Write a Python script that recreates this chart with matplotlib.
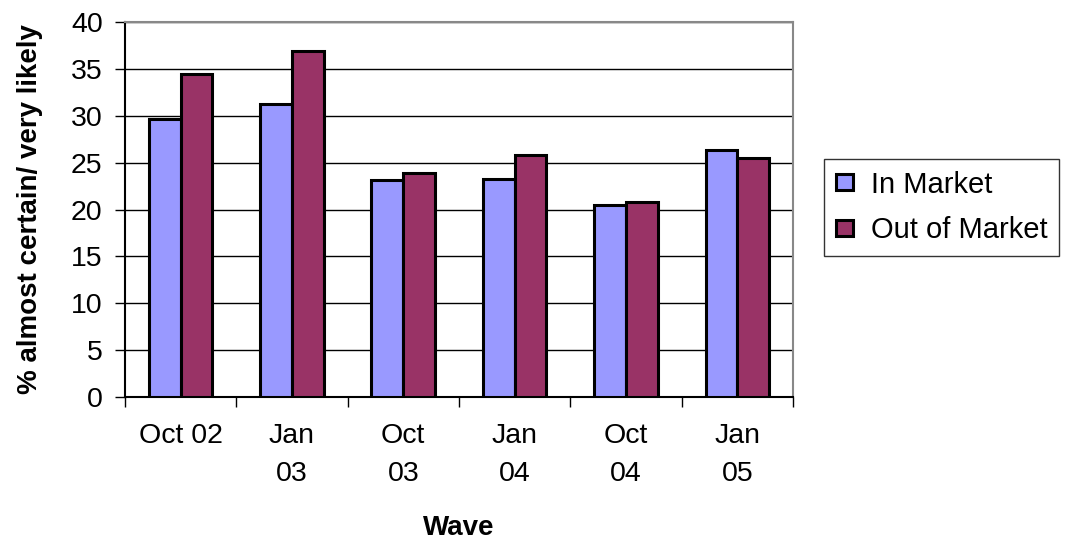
import matplotlib.pyplot as plt
import numpy as np

plt.rcParams['font.family'] = ['Liberation Sans', 'DejaVu Sans']

waves = ['Oct 02', 'Jan\n03', 'Oct\n03', 'Jan\n04', 'Oct\n04', 'Jan\n05']
in_market = [29.7, 31.3, 23.1, 23.3, 20.5, 26.3]
out_market = [34.5, 36.9, 23.9, 25.8, 20.8, 25.5]

fig = plt.figure(figsize=(10.68, 5.42), dpi=100)
ax = fig.add_axes([0.117, 0.2675, 0.6255, 0.6919])

x = np.arange(len(waves))
w = 1 / 3.5  # excel style gap width 150%
ax.bar(x - w / 2, in_market, w, color='#9999ff', edgecolor='black', linewidth=2.2, label='In Market', zorder=3)
ax.bar(x + w / 2, out_market, w, color='#993366', edgecolor='black', linewidth=2.2, label='Out of Market', zorder=3)

ax.set_xlim(-0.5, len(waves) - 0.5)
ax.set_ylim(0, 40)
ax.set_yticks(range(0, 41, 5))
ax.yaxis.grid(True, color='black', linewidth=1, zorder=0)

ax.set_xticks(x)
ax.set_xticklabels(waves, fontsize=20.5, linespacing=1.6, va='top')
ax.set_xticks(np.arange(-0.5, len(waves), 1), minor=True)
ax.tick_params(axis='x', which='major', length=0, pad=19)
ax.tick_params(axis='x', which='minor', length=7, direction='out', width=1)
ax.tick_params(axis='y', length=7, direction='out', width=1, labelsize=20.5, pad=9)

ax.spines['left'].set_color('black')
ax.spines['bottom'].set_color('black')
ax.spines['top'].set_color('#888888')
ax.spines['right'].set_color('#888888')
for s in ax.spines.values():
    s.set_linewidth(1.5)

ax.set_ylabel('% almost certain/ very likely', fontsize=20, fontweight='bold', labelpad=20)
ax.set_xlabel('Wave', fontsize=20, fontweight='bold', labelpad=20)

leg = ax.legend(loc='upper left', bbox_to_anchor=(824 / 1068, 1 - 159 / 542), bbox_transform=fig.transFigure,
                fontsize=21, frameon=True, fancybox=False, edgecolor='black',
                handlelength=0.6, handleheight=0.45, handletextpad=0.6, borderpad=0.4,
                labelspacing=0.6, borderaxespad=0)
leg.get_frame().set_linewidth(1)

fig.savefig('out.png', dpi=100)
